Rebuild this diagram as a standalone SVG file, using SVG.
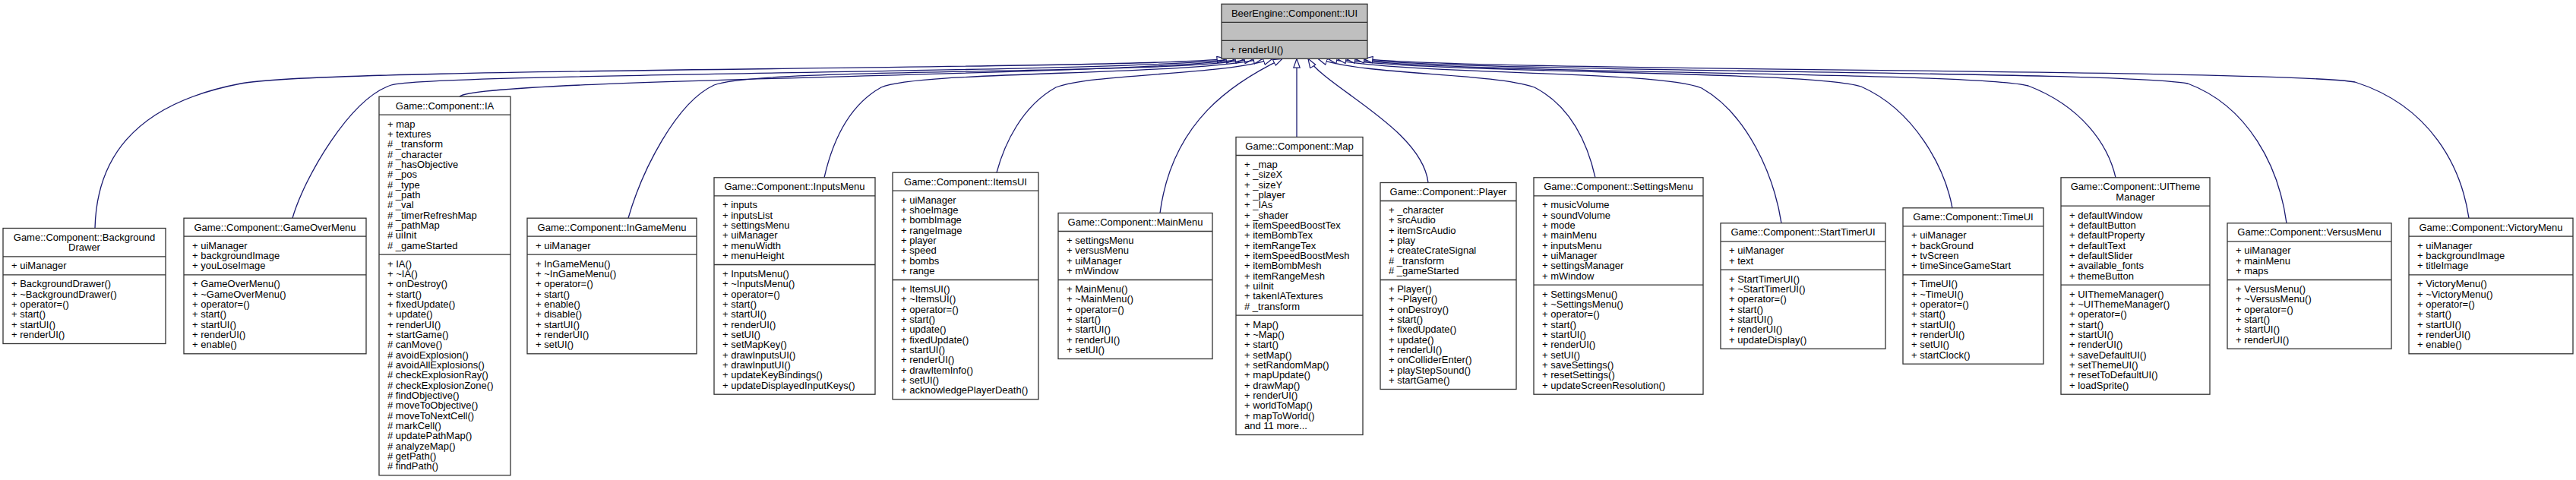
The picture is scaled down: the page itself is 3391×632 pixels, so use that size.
<svg xmlns="http://www.w3.org/2000/svg" width="3391" height="632" viewBox="0 0 3391 632">
<defs>
<style>
.box{fill:#fff;stroke:#333;stroke-width:1.3}
.root{fill:#bfbfbf}
.sep{stroke:#333;stroke-width:1.3}
text{font-family:"Liberation Sans",Arial,Helvetica,sans-serif;font-size:13px;fill:#000}
.c{text-anchor:middle}
.e{fill:none;stroke:#191970;stroke-width:1.3;marker-end:url(#ah)}
</style>
<marker id="ah" markerUnits="userSpaceOnUse" viewBox="0 0 13 10" markerWidth="13" markerHeight="10" refX="12.5" refY="5" orient="auto">
<path d="M0.6,0.8 L12.5,5 L0.6,9.2 Z" fill="#fff" stroke="#191970" stroke-width="1.2"/>
</marker>
</defs>
<rect width="3391" height="632" fill="#fff"/>

<g id="connectors">
<path class="e" d="M125,300.5 C127,215 170,138 317,110 C420,89 1480,92 1614,77.3"/>
<path class="e" d="M385,287.2 C400,235 460,130 515,112 C570,96 1500,96 1626,77.3"/>
<path class="e" d="M605,127.2 C625,103 1500,100 1638,77.3"/>
<path class="e" d="M827,287.2 C845,225 890,135 940,112 C1000,88 1530,100 1650,77.3"/>
<path class="e" d="M1085,233.8 C1095,190 1115,140 1160,115 C1210,93 1560,100 1662,77.3"/>
<path class="e" d="M1312,227.2 C1322,190 1345,140 1390,115 C1440,96 1610,100 1675,77.3"/>
<path class="e" d="M1527,280.5 C1543,158.6 1624.8,107.8 1688,77.3"/>
<path class="e" d="M1707,180.5 L1707,77.3"/>
<path class="e" d="M1880,240.5 C1872,170 1745,115 1722,77.3"/>
<path class="e" d="M2100,233.8 C2090,190 2068,140 2020,115 C1960,95 1800,100 1735,77.3"/>
<path class="e" d="M2345,293.8 C2335,230 2300,150 2240,116 C2180,92 1860,100 1748,77.3"/>
<path class="e" d="M2570,273.8 C2560,220 2520,145 2450,114 C2380,92 1880,98 1760,77.3"/>
<path class="e" d="M2785,233.8 C2775,190 2740,140 2670,113 C2600,94 1900,98 1772,77.3"/>
<path class="e" d="M3010,293.8 C3000,220 2960,140 2880,110 C2800,93 1920,96 1784,77.3"/>
<path class="e" d="M3250,287.2 C3240,220 3200,140 3100,108 C3000,91 1940,94 1795,77.3"/>
</g>

<g id="IUI">
<rect class="box root" x="1608" y="5.3" width="192" height="72"/>
<line class="sep" x1="1608" y1="29.3" x2="1800" y2="29.3"/>
<line class="sep" x1="1608" y1="53.3" x2="1800" y2="53.3"/>
<text class="c" x="1704" y="21.8">BeerEngine::Component::IUI</text>
<text x="1619" y="69.8">+ renderUI()</text>
</g>

<g id="BackgroundDrawer">
<rect class="box" x="4" y="300.5" width="214" height="152"/>
<line class="sep" x1="4" y1="337.8" x2="218" y2="337.8"/>
<line class="sep" x1="4" y1="361.8" x2="218" y2="361.8"/>
<text class="c" x="111" y="317"><tspan x="111">Game::Component::Background</tspan><tspan x="111" dy="13.33">Drawer</tspan></text>
<text x="15" y="354.3">+ uiManager</text>
<text x="15" y="378.3"><tspan x="15">+ BackgroundDrawer()</tspan><tspan x="15" dy="13.33">+ ~BackgroundDrawer()</tspan><tspan x="15" dy="13.33">+ operator=()</tspan><tspan x="15" dy="13.33">+ start()</tspan><tspan x="15" dy="13.33">+ startUI()</tspan><tspan x="15" dy="13.33">+ renderUI()</tspan></text>
</g>

<g id="GameOverMenu">
<rect class="box" x="242" y="287.2" width="240" height="178.6"/>
<line class="sep" x1="242" y1="311.2" x2="482" y2="311.2"/>
<line class="sep" x1="242" y1="361.9" x2="482" y2="361.9"/>
<text class="c" x="362" y="303.7">Game::Component::GameOverMenu</text>
<text x="253" y="327.7"><tspan x="253">+ uiManager</tspan><tspan x="253" dy="13.33">+ backgroundImage</tspan><tspan x="253" dy="13.33">+ youLoseImage</tspan></text>
<text x="253" y="378.4"><tspan x="253">+ GameOverMenu()</tspan><tspan x="253" dy="13.33">+ ~GameOverMenu()</tspan><tspan x="253" dy="13.33">+ operator=()</tspan><tspan x="253" dy="13.33">+ start()</tspan><tspan x="253" dy="13.33">+ startUI()</tspan><tspan x="253" dy="13.33">+ renderUI()</tspan><tspan x="253" dy="13.33">+ enable()</tspan></text>
</g>

<g id="IA">
<rect class="box" x="499" y="127.2" width="173" height="498.6"/>
<line class="sep" x1="499" y1="151.2" x2="672" y2="151.2"/>
<line class="sep" x1="499" y1="335.2" x2="672" y2="335.2"/>
<text class="c" x="585.5" y="143.7">Game::Component::IA</text>
<text x="510" y="167.7"><tspan x="510">+ map</tspan><tspan x="510" dy="13.33">+ textures</tspan><tspan x="510" dy="13.33"># _transform</tspan><tspan x="510" dy="13.33"># _character</tspan><tspan x="510" dy="13.33"># _hasObjective</tspan><tspan x="510" dy="13.33"># _pos</tspan><tspan x="510" dy="13.33"># _type</tspan><tspan x="510" dy="13.33"># _path</tspan><tspan x="510" dy="13.33"># _val</tspan><tspan x="510" dy="13.33"># _timerRefreshMap</tspan><tspan x="510" dy="13.33"># _pathMap</tspan><tspan x="510" dy="13.33"># uiInit</tspan><tspan x="510" dy="13.33"># _gameStarted</tspan></text>
<text x="510" y="351.7"><tspan x="510">+ IA()</tspan><tspan x="510" dy="13.33">+ ~IA()</tspan><tspan x="510" dy="13.33">+ onDestroy()</tspan><tspan x="510" dy="13.33">+ start()</tspan><tspan x="510" dy="13.33">+ fixedUpdate()</tspan><tspan x="510" dy="13.33">+ update()</tspan><tspan x="510" dy="13.33">+ renderUI()</tspan><tspan x="510" dy="13.33">+ startGame()</tspan><tspan x="510" dy="13.33"># canMove()</tspan><tspan x="510" dy="13.33"># avoidExplosion()</tspan><tspan x="510" dy="13.33"># avoidAllExplosions()</tspan><tspan x="510" dy="13.33"># checkExplosionRay()</tspan><tspan x="510" dy="13.33"># checkExplosionZone()</tspan><tspan x="510" dy="13.33"># findObjective()</tspan><tspan x="510" dy="13.33"># moveToObjective()</tspan><tspan x="510" dy="13.33"># moveToNextCell()</tspan><tspan x="510" dy="13.33"># markCell()</tspan><tspan x="510" dy="13.33"># updatePathMap()</tspan><tspan x="510" dy="13.33"># analyzeMap()</tspan><tspan x="510" dy="13.33"># getPath()</tspan><tspan x="510" dy="13.33"># findPath()</tspan></text>
</g>

<g id="InGameMenu">
<rect class="box" x="694" y="287.2" width="223" height="178.6"/>
<line class="sep" x1="694" y1="311.2" x2="917" y2="311.2"/>
<line class="sep" x1="694" y1="335.2" x2="917" y2="335.2"/>
<text class="c" x="805.5" y="303.7">Game::Component::InGameMenu</text>
<text x="705" y="327.7">+ uiManager</text>
<text x="705" y="351.7"><tspan x="705">+ InGameMenu()</tspan><tspan x="705" dy="13.33">+ ~InGameMenu()</tspan><tspan x="705" dy="13.33">+ operator=()</tspan><tspan x="705" dy="13.33">+ start()</tspan><tspan x="705" dy="13.33">+ enable()</tspan><tspan x="705" dy="13.33">+ disable()</tspan><tspan x="705" dy="13.33">+ startUI()</tspan><tspan x="705" dy="13.33">+ renderUI()</tspan><tspan x="705" dy="13.33">+ setUI()</tspan></text>
</g>

<g id="InputsMenu">
<rect class="box" x="940" y="233.8" width="212" height="285.4"/>
<line class="sep" x1="940" y1="257.8" x2="1152" y2="257.8"/>
<line class="sep" x1="940" y1="348.5" x2="1152" y2="348.5"/>
<text class="c" x="1046" y="250.3">Game::Component::InputsMenu</text>
<text x="951" y="274.3"><tspan x="951">+ inputs</tspan><tspan x="951" dy="13.33">+ inputsList</tspan><tspan x="951" dy="13.33">+ settingsMenu</tspan><tspan x="951" dy="13.33">+ uiManager</tspan><tspan x="951" dy="13.33">+ menuWidth</tspan><tspan x="951" dy="13.33">+ menuHeight</tspan></text>
<text x="951" y="365"><tspan x="951">+ InputsMenu()</tspan><tspan x="951" dy="13.33">+ ~InputsMenu()</tspan><tspan x="951" dy="13.33">+ operator=()</tspan><tspan x="951" dy="13.33">+ start()</tspan><tspan x="951" dy="13.33">+ startUI()</tspan><tspan x="951" dy="13.33">+ renderUI()</tspan><tspan x="951" dy="13.33">+ setUI()</tspan><tspan x="951" dy="13.33">+ setMapKey()</tspan><tspan x="951" dy="13.33">+ drawInputsUI()</tspan><tspan x="951" dy="13.33">+ drawInputUI()</tspan><tspan x="951" dy="13.33">+ updateKeyBindings()</tspan><tspan x="951" dy="13.33">+ updateDisplayedInputKeys()</tspan></text>
</g>

<g id="ItemsUI">
<rect class="box" x="1175" y="227.2" width="192" height="298.6"/>
<line class="sep" x1="1175" y1="251.2" x2="1367" y2="251.2"/>
<line class="sep" x1="1175" y1="368.5" x2="1367" y2="368.5"/>
<text class="c" x="1271" y="243.7">Game::Component::ItemsUI</text>
<text x="1186" y="267.7"><tspan x="1186">+ uiManager</tspan><tspan x="1186" dy="13.33">+ shoeImage</tspan><tspan x="1186" dy="13.33">+ bombImage</tspan><tspan x="1186" dy="13.33">+ rangeImage</tspan><tspan x="1186" dy="13.33">+ player</tspan><tspan x="1186" dy="13.33">+ speed</tspan><tspan x="1186" dy="13.33">+ bombs</tspan><tspan x="1186" dy="13.33">+ range</tspan></text>
<text x="1186" y="385"><tspan x="1186">+ ItemsUI()</tspan><tspan x="1186" dy="13.33">+ ~ItemsUI()</tspan><tspan x="1186" dy="13.33">+ operator=()</tspan><tspan x="1186" dy="13.33">+ start()</tspan><tspan x="1186" dy="13.33">+ update()</tspan><tspan x="1186" dy="13.33">+ fixedUpdate()</tspan><tspan x="1186" dy="13.33">+ startUI()</tspan><tspan x="1186" dy="13.33">+ renderUI()</tspan><tspan x="1186" dy="13.33">+ drawItemInfo()</tspan><tspan x="1186" dy="13.33">+ setUI()</tspan><tspan x="1186" dy="13.33">+ acknowledgePlayerDeath()</tspan></text>
</g>

<g id="MainMenu">
<rect class="box" x="1393" y="280.5" width="203" height="192"/>
<line class="sep" x1="1393" y1="304.5" x2="1596" y2="304.5"/>
<line class="sep" x1="1393" y1="368.5" x2="1596" y2="368.5"/>
<text class="c" x="1494.5" y="297">Game::Component::MainMenu</text>
<text x="1404" y="321"><tspan x="1404">+ settingsMenu</tspan><tspan x="1404" dy="13.33">+ versusMenu</tspan><tspan x="1404" dy="13.33">+ uiManager</tspan><tspan x="1404" dy="13.33">+ mWindow</tspan></text>
<text x="1404" y="385"><tspan x="1404">+ MainMenu()</tspan><tspan x="1404" dy="13.33">+ ~MainMenu()</tspan><tspan x="1404" dy="13.33">+ operator=()</tspan><tspan x="1404" dy="13.33">+ start()</tspan><tspan x="1404" dy="13.33">+ startUI()</tspan><tspan x="1404" dy="13.33">+ renderUI()</tspan><tspan x="1404" dy="13.33">+ setUI()</tspan></text>
</g>

<g id="Map">
<rect class="box" x="1627" y="180.5" width="167" height="392"/>
<line class="sep" x1="1627" y1="204.5" x2="1794" y2="204.5"/>
<line class="sep" x1="1627" y1="415.2" x2="1794" y2="415.2"/>
<text class="c" x="1710.5" y="197">Game::Component::Map</text>
<text x="1638" y="221"><tspan x="1638">+ _map</tspan><tspan x="1638" dy="13.33">+ _sizeX</tspan><tspan x="1638" dy="13.33">+ _sizeY</tspan><tspan x="1638" dy="13.33">+ _player</tspan><tspan x="1638" dy="13.33">+ _IAs</tspan><tspan x="1638" dy="13.33">+ _shader</tspan><tspan x="1638" dy="13.33">+ itemSpeedBoostTex</tspan><tspan x="1638" dy="13.33">+ itemBombTex</tspan><tspan x="1638" dy="13.33">+ itemRangeTex</tspan><tspan x="1638" dy="13.33">+ itemSpeedBoostMesh</tspan><tspan x="1638" dy="13.33">+ itemBombMesh</tspan><tspan x="1638" dy="13.33">+ itemRangeMesh</tspan><tspan x="1638" dy="13.33">+ uiInit</tspan><tspan x="1638" dy="13.33">+ takenIATextures</tspan><tspan x="1638" dy="13.33"># _transform</tspan></text>
<text x="1638" y="431.7"><tspan x="1638">+ Map()</tspan><tspan x="1638" dy="13.33">+ ~Map()</tspan><tspan x="1638" dy="13.33">+ start()</tspan><tspan x="1638" dy="13.33">+ setMap()</tspan><tspan x="1638" dy="13.33">+ setRandomMap()</tspan><tspan x="1638" dy="13.33">+ mapUpdate()</tspan><tspan x="1638" dy="13.33">+ drawMap()</tspan><tspan x="1638" dy="13.33">+ renderUI()</tspan><tspan x="1638" dy="13.33">+ worldToMap()</tspan><tspan x="1638" dy="13.33">+ mapToWorld()</tspan><tspan x="1638" dy="13.33">and 11 more...</tspan></text>
</g>

<g id="Player">
<rect class="box" x="1817" y="240.5" width="179" height="272"/>
<line class="sep" x1="1817" y1="264.5" x2="1996" y2="264.5"/>
<line class="sep" x1="1817" y1="368.5" x2="1996" y2="368.5"/>
<text class="c" x="1906.5" y="257">Game::Component::Player</text>
<text x="1828" y="281"><tspan x="1828">+ _character</tspan><tspan x="1828" dy="13.33">+ srcAudio</tspan><tspan x="1828" dy="13.33">+ itemSrcAudio</tspan><tspan x="1828" dy="13.33">+ play</tspan><tspan x="1828" dy="13.33">+ createCrateSignal</tspan><tspan x="1828" dy="13.33"># _transform</tspan><tspan x="1828" dy="13.33"># _gameStarted</tspan></text>
<text x="1828" y="385"><tspan x="1828">+ Player()</tspan><tspan x="1828" dy="13.33">+ ~Player()</tspan><tspan x="1828" dy="13.33">+ onDestroy()</tspan><tspan x="1828" dy="13.33">+ start()</tspan><tspan x="1828" dy="13.33">+ fixedUpdate()</tspan><tspan x="1828" dy="13.33">+ update()</tspan><tspan x="1828" dy="13.33">+ renderUI()</tspan><tspan x="1828" dy="13.33">+ onColliderEnter()</tspan><tspan x="1828" dy="13.33">+ playStepSound()</tspan><tspan x="1828" dy="13.33">+ startGame()</tspan></text>
</g>

<g id="SettingsMenu">
<rect class="box" x="2019" y="233.8" width="223" height="285.4"/>
<line class="sep" x1="2019" y1="257.8" x2="2242" y2="257.8"/>
<line class="sep" x1="2019" y1="375.2" x2="2242" y2="375.2"/>
<text class="c" x="2130.5" y="250.3">Game::Component::SettingsMenu</text>
<text x="2030" y="274.3"><tspan x="2030">+ musicVolume</tspan><tspan x="2030" dy="13.33">+ soundVolume</tspan><tspan x="2030" dy="13.33">+ mode</tspan><tspan x="2030" dy="13.33">+ mainMenu</tspan><tspan x="2030" dy="13.33">+ inputsMenu</tspan><tspan x="2030" dy="13.33">+ uiManager</tspan><tspan x="2030" dy="13.33">+ settingsManager</tspan><tspan x="2030" dy="13.33">+ mWindow</tspan></text>
<text x="2030" y="391.7"><tspan x="2030">+ SettingsMenu()</tspan><tspan x="2030" dy="13.33">+ ~SettingsMenu()</tspan><tspan x="2030" dy="13.33">+ operator=()</tspan><tspan x="2030" dy="13.33">+ start()</tspan><tspan x="2030" dy="13.33">+ startUI()</tspan><tspan x="2030" dy="13.33">+ renderUI()</tspan><tspan x="2030" dy="13.33">+ setUI()</tspan><tspan x="2030" dy="13.33">+ saveSettings()</tspan><tspan x="2030" dy="13.33">+ resetSettings()</tspan><tspan x="2030" dy="13.33">+ updateScreenResolution()</tspan></text>
</g>

<g id="StartTimerUI">
<rect class="box" x="2265" y="293.8" width="217" height="165.4"/>
<line class="sep" x1="2265" y1="317.8" x2="2482" y2="317.8"/>
<line class="sep" x1="2265" y1="355.2" x2="2482" y2="355.2"/>
<text class="c" x="2373.5" y="310.3">Game::Component::StartTimerUI</text>
<text x="2276" y="334.3"><tspan x="2276">+ uiManager</tspan><tspan x="2276" dy="13.33">+ text</tspan></text>
<text x="2276" y="371.7"><tspan x="2276">+ StartTimerUI()</tspan><tspan x="2276" dy="13.33">+ ~StartTimerUI()</tspan><tspan x="2276" dy="13.33">+ operator=()</tspan><tspan x="2276" dy="13.33">+ start()</tspan><tspan x="2276" dy="13.33">+ startUI()</tspan><tspan x="2276" dy="13.33">+ renderUI()</tspan><tspan x="2276" dy="13.33">+ updateDisplay()</tspan></text>
</g>

<g id="TimeUI">
<rect class="box" x="2505" y="273.8" width="185" height="205.4"/>
<line class="sep" x1="2505" y1="297.8" x2="2690" y2="297.8"/>
<line class="sep" x1="2505" y1="361.8" x2="2690" y2="361.8"/>
<text class="c" x="2597.5" y="290.3">Game::Component::TimeUI</text>
<text x="2516" y="314.3"><tspan x="2516">+ uiManager</tspan><tspan x="2516" dy="13.33">+ backGround</tspan><tspan x="2516" dy="13.33">+ tvScreen</tspan><tspan x="2516" dy="13.33">+ timeSinceGameStart</tspan></text>
<text x="2516" y="378.3"><tspan x="2516">+ TimeUI()</tspan><tspan x="2516" dy="13.33">+ ~TimeUI()</tspan><tspan x="2516" dy="13.33">+ operator=()</tspan><tspan x="2516" dy="13.33">+ start()</tspan><tspan x="2516" dy="13.33">+ startUI()</tspan><tspan x="2516" dy="13.33">+ renderUI()</tspan><tspan x="2516" dy="13.33">+ setUI()</tspan><tspan x="2516" dy="13.33">+ startClock()</tspan></text>
</g>

<g id="UIThemeManager">
<rect class="box" x="2713" y="233.8" width="196" height="285.4"/>
<line class="sep" x1="2713" y1="271.2" x2="2909" y2="271.2"/>
<line class="sep" x1="2713" y1="375.2" x2="2909" y2="375.2"/>
<text class="c" x="2811" y="250.3"><tspan x="2811">Game::Component::UITheme</tspan><tspan x="2811" dy="13.33">Manager</tspan></text>
<text x="2724" y="287.7"><tspan x="2724">+ defaultWindow</tspan><tspan x="2724" dy="13.33">+ defaultButton</tspan><tspan x="2724" dy="13.33">+ defaultProperty</tspan><tspan x="2724" dy="13.33">+ defaultText</tspan><tspan x="2724" dy="13.33">+ defaultSlider</tspan><tspan x="2724" dy="13.33">+ available_fonts</tspan><tspan x="2724" dy="13.33">+ themeButton</tspan></text>
<text x="2724" y="391.7"><tspan x="2724">+ UIThemeManager()</tspan><tspan x="2724" dy="13.33">+ ~UIThemeManager()</tspan><tspan x="2724" dy="13.33">+ operator=()</tspan><tspan x="2724" dy="13.33">+ start()</tspan><tspan x="2724" dy="13.33">+ startUI()</tspan><tspan x="2724" dy="13.33">+ renderUI()</tspan><tspan x="2724" dy="13.33">+ saveDefaultUI()</tspan><tspan x="2724" dy="13.33">+ setThemeUI()</tspan><tspan x="2724" dy="13.33">+ resetToDefaultUI()</tspan><tspan x="2724" dy="13.33">+ loadSprite()</tspan></text>
</g>

<g id="VersusMenu">
<rect class="box" x="2932" y="293.8" width="216" height="165.4"/>
<line class="sep" x1="2932" y1="317.8" x2="3148" y2="317.8"/>
<line class="sep" x1="2932" y1="368.5" x2="3148" y2="368.5"/>
<text class="c" x="3040" y="310.3">Game::Component::VersusMenu</text>
<text x="2943" y="334.3"><tspan x="2943">+ uiManager</tspan><tspan x="2943" dy="13.33">+ mainMenu</tspan><tspan x="2943" dy="13.33">+ maps</tspan></text>
<text x="2943" y="385"><tspan x="2943">+ VersusMenu()</tspan><tspan x="2943" dy="13.33">+ ~VersusMenu()</tspan><tspan x="2943" dy="13.33">+ operator=()</tspan><tspan x="2943" dy="13.33">+ start()</tspan><tspan x="2943" dy="13.33">+ startUI()</tspan><tspan x="2943" dy="13.33">+ renderUI()</tspan></text>
</g>

<g id="VictoryMenu">
<rect class="box" x="3171" y="287.2" width="216" height="178.6"/>
<line class="sep" x1="3171" y1="311.2" x2="3387" y2="311.2"/>
<line class="sep" x1="3171" y1="361.9" x2="3387" y2="361.9"/>
<text class="c" x="3279" y="303.7">Game::Component::VictoryMenu</text>
<text x="3182" y="327.7"><tspan x="3182">+ uiManager</tspan><tspan x="3182" dy="13.33">+ backgroundImage</tspan><tspan x="3182" dy="13.33">+ titleImage</tspan></text>
<text x="3182" y="378.4"><tspan x="3182">+ VictoryMenu()</tspan><tspan x="3182" dy="13.33">+ ~VictoryMenu()</tspan><tspan x="3182" dy="13.33">+ operator=()</tspan><tspan x="3182" dy="13.33">+ start()</tspan><tspan x="3182" dy="13.33">+ startUI()</tspan><tspan x="3182" dy="13.33">+ renderUI()</tspan><tspan x="3182" dy="13.33">+ enable()</tspan></text>
</g>
</svg>
